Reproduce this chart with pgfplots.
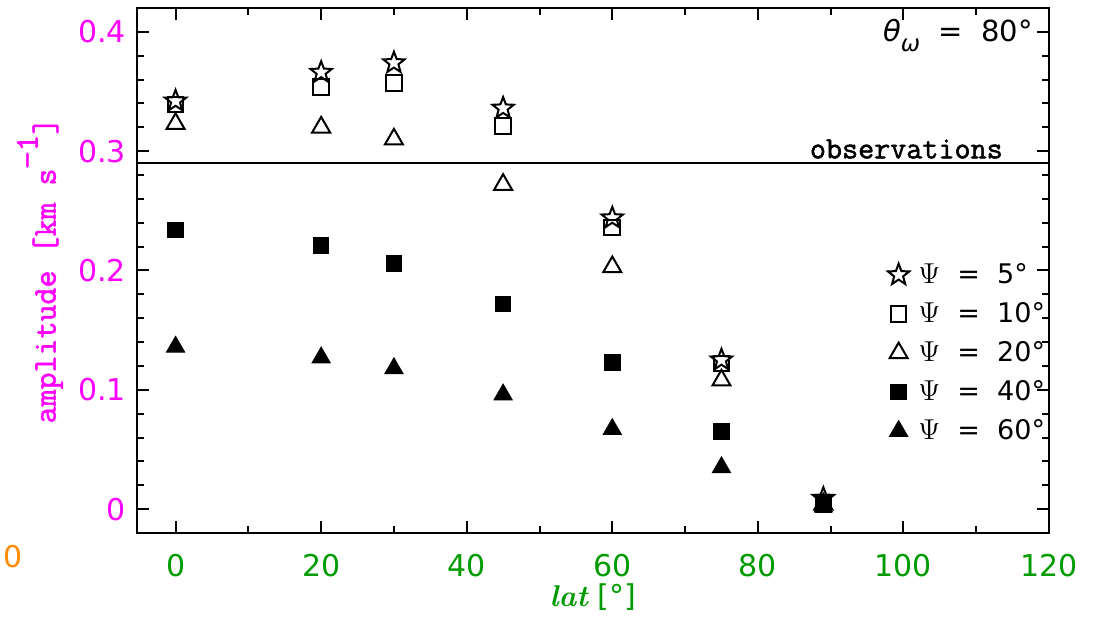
\documentclass[border=0pt]{standalone}
\usepackage{fontspec}
\usepackage{pgfplots}
\usepackage{pgfplotstable}
\pgfplotsset{compat=1.18}
\newfontfamily\dejavu{DejaVu Sans}
\newfontfamily\mono[FakeBold=1.6]{Latin Modern Mono}
\definecolor{ymag}{RGB}{255,0,255}
\definecolor{xgreen}{RGB}{0,155,0}
\definecolor{orng}{RGB}{255,140,0}

% open five-pointed star
\pgfdeclareplotmark{ostar}{%
  \pgfpathmoveto{\pgfpointpolar{90}{\pgfplotmarksize}}%
  \pgfpathlineto{\pgfpointpolar{126}{0.42\pgfplotmarksize}}%
  \pgfpathlineto{\pgfpointpolar{162}{\pgfplotmarksize}}%
  \pgfpathlineto{\pgfpointpolar{198}{0.42\pgfplotmarksize}}%
  \pgfpathlineto{\pgfpointpolar{234}{\pgfplotmarksize}}%
  \pgfpathlineto{\pgfpointpolar{270}{0.42\pgfplotmarksize}}%
  \pgfpathlineto{\pgfpointpolar{306}{\pgfplotmarksize}}%
  \pgfpathlineto{\pgfpointpolar{342}{0.42\pgfplotmarksize}}%
  \pgfpathlineto{\pgfpointpolar{18}{\pgfplotmarksize}}%
  \pgfpathlineto{\pgfpointpolar{54}{0.42\pgfplotmarksize}}%
  \pgfpathclose
  \pgfusepathqfillstroke}

% amplitude for each tilt angle Psi (columns) against latitude
\pgfplotstableread{
lat  s5     s10    s20    s40    s60
0    0.342  0.339  0.323  0.234  0.136
20   0.366  0.354  0.320  0.221  0.127
30   0.374  0.357  0.310  0.206  0.118
45   0.336  0.321  0.272  0.172  0.096
60   0.244  0.236  0.203  0.123  0.067
75   0.125  0.122  0.108  0.065  0.035
89   0.009  0.005  0.004  0.004  0.002
}\amp

\begin{document}
\begin{tikzpicture}
\begin{axis}[
  scale only axis, width=456pt, height=262.5pt,
  xmin=-5.3, xmax=120, ymin=-0.02, ymax=0.42,
  xtick={0,20,40,60,80,100,120}, minor x tick num=1,
  ytick={0,0.1,0.2,0.3,0.4}, minor y tick num=4,
  tick align=inside, major tick length=6pt, minor tick length=3.5pt,
  axis line style={line width=1.2pt},
  every tick/.style={black, line width=1pt},
  /pgf/number format/assume math mode=true,
  yticklabel style={font=\dejavu\fontsize{15}{15}\selectfont, text=ymag, xshift=-2pt},
  xticklabel style={font=\dejavu\fontsize{15}{15}\selectfont, text=xgreen, yshift=-7pt},
  ylabel={\mono amplitude [km s\raisebox{0.55em}{−1}]},
  ylabel style={at={(axis description cs:-0.1064,0.5)}, anchor=center, text=ymag,
    font=\fontsize{16.5}{17}\selectfont},
  xlabel={\textbf{\textit{lat}} {\dejavu [°]}},
  xlabel style={at={(axis description cs:0.5,-0.122)}, anchor=center, text=xgreen,
    font=\fontsize{15}{15}\selectfont},
  legend style={draw=none, fill=none, at={(axis cs:97.0,0.213)}, anchor=north west,
    font=\dejavu\fontsize{13.5}{13.5}\selectfont, row sep=4pt},
  legend cell align=left,
  clip=false,
]
\addplot[only marks, mark=ostar, mark size=5.6pt, mark options={line width=1pt, fill=white}] table[x=lat, y=s5] {\amp};
\addlegendentry{\hspace{2.5pt}$\Psi$\ \ =\ \ 5°}
\addplot[only marks, mark=square, mark size=3.9pt, mark options={line width=1pt}] table[x=lat, y=s10] {\amp};
\addlegendentry{\hspace{2.5pt}$\Psi$\ \ =\ \ 10°}
\addplot[only marks, mark=triangle, mark size=5.2pt, mark options={line width=1pt}] table[x=lat, y=s20] {\amp};
\addlegendentry{\hspace{2.5pt}$\Psi$\ \ =\ \ 20°}
\addplot[only marks, mark=square*, mark size=3.9pt, mark options={line width=0.5pt, fill=black}] table[x=lat, y=s40] {\amp};
\addlegendentry{\hspace{2.5pt}$\Psi$\ \ =\ \ 40°}
\addplot[only marks, mark=triangle*, mark size=5.2pt, mark options={line width=0.5pt, fill=black}] table[x=lat, y=s60] {\amp};
\addlegendentry{\hspace{2.5pt}$\Psi$\ \ =\ \ 60°}

% observed amplitude
\addplot[black, line width=1pt, forget plot] coordinates {(-5.3,0.290) (120,0.290)};
\node[anchor=south east, inner sep=0pt, font=\mono\fontsize{15.6}{16}\selectfont]
  at (axis cs:113.7,0.2935) {observations};
\node[anchor=east, inner sep=0pt, font=\dejavu\fontsize{14.5}{14.5}\selectfont]
  at (axis cs:117.8,0.3966) {{\itshape θ}\raisebox{-0.35em}{\itshape\fontsize{11.5}{11.5}\selectfont ω}\ \ =\ \ 80°};
\node[anchor=east, inner sep=0pt, text=orng, font=\dejavu\fontsize{15}{15}\selectfont]
  at (axis cs:-21.0,-0.040) {0};
\end{axis}
\path ([shift={(-68.5pt,-40.5pt)}]current axis.south west)
  rectangle ([shift={(22.5pt,4pt)}]current axis.north east);
\end{tikzpicture}
\end{document}
